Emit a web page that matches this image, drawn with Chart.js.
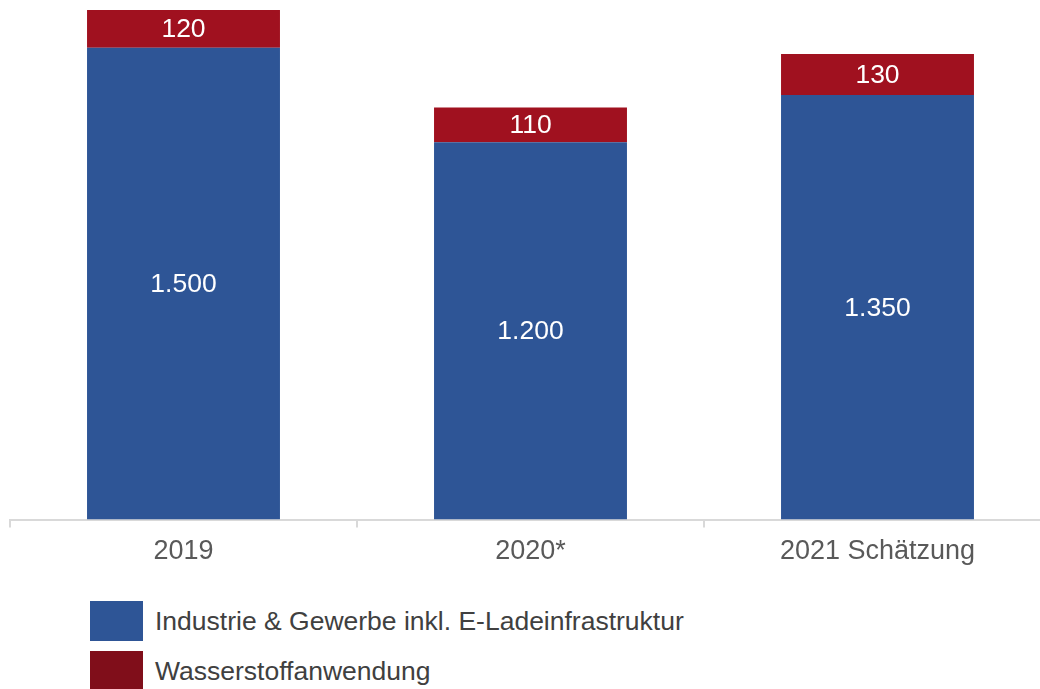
<!DOCTYPE html>
<html>
<head>
<meta charset="utf-8">
<script src="https://cdn.jsdelivr.net/npm/chart.js@4"></script>
<style>
    html, body { margin: 0; padding: 0; background: #fff; overflow: hidden; width: 1040px; height: 689px; }
    #wrap { position: relative; width: 1040px; height: 689px; }
    #chart { position: absolute; left: 0; top: 0; }
    .legend-item { position: absolute; left: 90px; height: 40px; font-family: "Liberation Sans", Arial, sans-serif; font-size: 26.5px; color: #404040; white-space: nowrap; }
    .legend-box { position: absolute; left: 0; top: 0; width: 53px; height: 40px; }
    .legend-text { position: absolute; left: 65px; top: 0; line-height: 40px; }
</style>
</head>
<body>
<div id="wrap">
    <canvas id="chart" width="1052" height="576"></canvas>
    <div id="legend"></div>
</div>
<script>
const categories = ['2019', '2020*', '2021 Schätzung'];
const industrieValues = [1500, 1200, 1350];
const wasserstoffValues = [120, 110, 130];
const seriesLabels = ['Industrie & Gewerbe inkl. E-Ladeinfrastruktur', 'Wasserstoffanwendung'];

const barColors = ['#2E5596', '#A0111F'];
const legendColors = ['#2E5596', '#800E1A'];

function formatDe(v) {
    return String(v).replace(/\B(?=(\d{3})+(?!\d))/g, '.');
}

// draw the value in the middle of every bar segment
const valueLabels = {
    id: 'valueLabels',
    afterDatasetsDraw(chart) {
        const ctx = chart.ctx;
        ctx.save();
        ctx.font = '26.5px "Liberation Sans", Arial, sans-serif';
        ctx.fillStyle = '#ffffff';
        ctx.textAlign = 'center';
        ctx.textBaseline = 'middle';
        chart.data.datasets.forEach((ds, i) => {
            chart.getDatasetMeta(i).data.forEach((bar, j) => {
                const mid = (bar.y + bar.base) / 2;
                ctx.fillText(formatDe(ds.data[j]), bar.x, mid + 1);
            });
        });
        ctx.restore();
    }
};

new Chart(document.getElementById('chart'), {
    type: 'bar',
    data: {
        labels: categories,
        datasets: [
            { label: seriesLabels[0], data: industrieValues, backgroundColor: barColors[0] },
            { label: seriesLabels[1], data: wasserstoffValues, backgroundColor: barColors[1] }
        ]
    },
    options: {
        responsive: false,
        animation: false,
        layout: { padding: { left: 10, right: 1, top: 0, bottom: 0 } },
        datasets: {
            bar: { barPercentage: 0.556, categoryPercentage: 1.0 }
        },
        plugins: {
            legend: { display: false },
            tooltip: { enabled: false }
        },
        scales: {
            x: {
                stacked: true,
                grid: { drawOnChartArea: false, drawTicks: true, tickLength: 8, color: '#D9D9D9', lineWidth: 2 },
                border: { color: '#D9D9D9', width: 2 },
                ticks: {
                    color: '#595959',
                    padding: 8,
                    font: { family: '"Liberation Sans", Arial, sans-serif', size: 27 }
                }
            },
            y: {
                stacked: true,
                display: false,
                min: 0,
                max: 1652
            }
        }
    },
    plugins: [valueLabels]
});

const legend = document.getElementById('legend');
seriesLabels.forEach((label, i) => {
    const item = document.createElement('div');
    item.className = 'legend-item';
    item.style.top = (601 + i * 50) + 'px';
    item.innerHTML = '<div class="legend-box" style="background:' + legendColors[i] + '"></div>' +
        '<div class="legend-text"></div>';
    item.querySelector('.legend-text').textContent = label;
    legend.appendChild(item);
});
</script>
</body>
</html>
